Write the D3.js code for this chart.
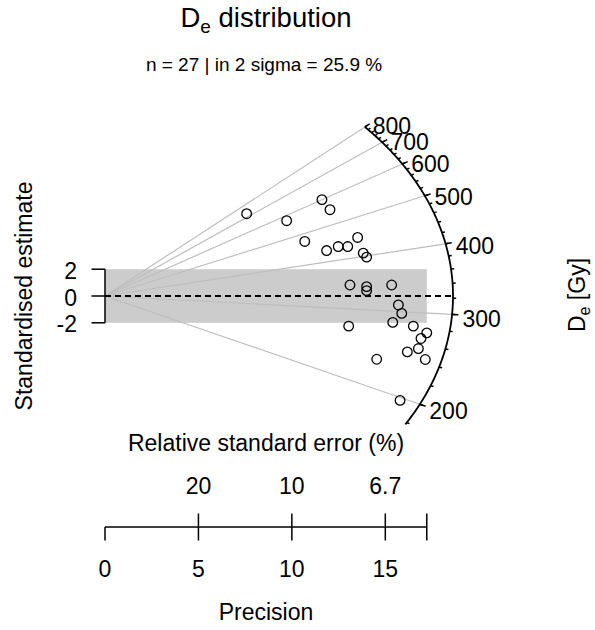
<!DOCTYPE html>
<html>
<head>
<meta charset="utf-8">
<script src="https://cdn.jsdelivr.net/npm/d3@7"></script>
<style>
  body { margin: 0; background: #fff; }
  text { font-family: "Liberation Sans", Arial, sans-serif; fill: #000; }
</style>
</head>
<body>
<div id="chart"></div>
<script>
// Radial plot of De values
// x = precision (1 / relative error), y = standardised estimate

// Data
const precision = [7.58, 9.72, 11.61, 12.04, 10.69, 11.86, 12.48, 12.99, 13.52,
    13.82, 14.00, 13.11, 14.00, 14.00, 15.34, 15.70, 15.88, 13.04, 15.40,
    16.50, 17.22, 16.91, 16.77, 16.18, 17.14, 14.54, 15.79];
const stdEstimate = [6.14, 5.62, 7.19, 6.44, 4.07, 3.39, 3.69, 3.69, 4.37,
    3.20, 2.90, 0.82, 0.70, 0.40, 0.82, -0.67, -1.30, -2.25, -1.97,
    -2.25, -2.75, -3.17, -3.92, -4.17, -4.74, -4.72, -7.79];
const centralDe = 323;
const deMajorTicks = [200, 300, 400, 500, 600, 700, 800];
const deMinorTicks = [180, 200, 220, 240, 260, 280, 300, 320, 340, 360, 380, 400,
    420, 440, 460, 480, 500, 520, 540, 560, 580, 600, 620, 640, 660, 680, 700,
    720, 740, 760, 780, 800];
const deArcRange = [178, 800];
const precisionTicks = [0, 5, 10, 15];
const rseTicks = [5, 10, 15];
const rseLabels = ["20", "10", "6.7"];
const zTicks = [-2, 0, 2];
const subtitle = "n = 27 | in 2 sigma = 25.9 %";

const width = 595, height = 630;

const svg = d3.select("#chart")
    .append("svg")
    .attr("width", width)
    .attr("height", height);

// scales
const x = d3.scaleLinear().domain([0, 15]).range([105, 385.3]);
const y = d3.scaleLinear().domain([-2, 2]).range([322.8, 269.2]);

const zc = Math.log(centralDe);
const pMax = d3.max(precision);
const r = x.invert(453);      // radius of the De scale arc (precision units)
const f = 0.982;              // aspect factor of the arc

// point on the arc for a De value, scaled by k
function arcPoint(de, k) {
    const d = Math.log(de) - zc;
    const ex = k * r / Math.sqrt(1 + f * f * d * d);
    return [x(ex), y(d * ex)];
}

// 2 sigma band
svg.append("rect")
    .attr("x", x(0))
    .attr("y", y(2))
    .attr("width", x(pMax) - x(0))
    .attr("height", y(-2) - y(2))
    .attr("fill", "#cccccc");

// lines from the origin to the major De ticks
svg.append("g")
    .selectAll("line")
    .data(deMajorTicks)
    .join("line")
    .attr("x1", x(0))
    .attr("y1", y(0))
    .attr("x2", d => arcPoint(d, 1)[0])
    .attr("y2", d => arcPoint(d, 1)[1])
    .attr("stroke", "#bebebe")
    .attr("stroke-width", 1.2);

// central value
svg.append("line")
    .attr("x1", x(0))
    .attr("y1", y(0))
    .attr("x2", arcPoint(centralDe, 1)[0])
    .attr("y2", y(0))
    .attr("stroke", "#000")
    .attr("stroke-width", 2)
    .attr("stroke-dasharray", "6,4");

// De arc
const arcValues = d3.range(0, 201).map(i =>
    Math.exp(Math.log(deArcRange[0]) + i / 200 * (Math.log(deArcRange[1]) - Math.log(deArcRange[0]))));
svg.append("path")
    .datum(arcValues)
    .attr("fill", "none")
    .attr("stroke", "#000")
    .attr("stroke-width", 1.8)
    .attr("d", d3.line().x(d => arcPoint(d, 1)[0]).y(d => arcPoint(d, 1)[1]));

// arc ticks
svg.append("g")
    .selectAll("line")
    .data(deMinorTicks)
    .join("line")
    .attr("x1", d => arcPoint(d, 1)[0])
    .attr("y1", d => arcPoint(d, 1)[1])
    .attr("x2", d => arcPoint(d, 1.009)[0])
    .attr("y2", d => arcPoint(d, 1.009)[1])
    .attr("stroke", "#000")
    .attr("stroke-width", 1.5);

svg.append("g")
    .selectAll("line")
    .data(deMajorTicks)
    .join("line")
    .attr("x1", d => arcPoint(d, 1)[0])
    .attr("y1", d => arcPoint(d, 1)[1])
    .attr("x2", d => arcPoint(d, 1.018)[0])
    .attr("y2", d => arcPoint(d, 1.018)[1])
    .attr("stroke", "#000")
    .attr("stroke-width", 1.5);

svg.append("g")
    .selectAll("text")
    .data(deMajorTicks)
    .join("text")
    .attr("x", d => arcPoint(d, 1.03)[0])
    .attr("y", d => arcPoint(d, 1.03)[1] + 4)
    .attr("dominant-baseline", "central")
    .style("font-size", "23px")
    .text(d => d);

// points
svg.append("g")
    .selectAll("circle")
    .data(precision)
    .join("circle")
    .attr("cx", d => x(d))
    .attr("cy", (d, i) => y(stdEstimate[i]))
    .attr("r", 4.8)
    .attr("fill", "none")
    .attr("stroke", "#000")
    .attr("stroke-width", 1.3);

// z axis (standardised estimate)
const zAxis = svg.append("g").attr("transform", `translate(${x(0)},0)`);
zAxis.append("line")
    .attr("y1", y(2)).attr("y2", y(-2))
    .attr("stroke", "#000").attr("stroke-width", 1.5);
zAxis.selectAll(".tick")
    .data(zTicks)
    .join("line")
    .attr("x1", 0).attr("x2", -13.5)
    .attr("y1", d => y(d)).attr("y2", d => y(d))
    .attr("stroke", "#000").attr("stroke-width", 1.5);
zAxis.selectAll("text")
    .data(zTicks)
    .join("text")
    .attr("x", -28)
    .attr("y", d => y(d) + 1.5)
    .attr("text-anchor", "end")
    .attr("dominant-baseline", "central")
    .style("font-size", "23px")
    .text(d => d);

// precision axis with relative standard error on top
const axisY = 527;
svg.append("line")
    .attr("x1", x(0)).attr("x2", x(pMax))
    .attr("y1", axisY).attr("y2", axisY)
    .attr("stroke", "#000").attr("stroke-width", 1.5);

svg.append("g")
    .selectAll("line")
    .data(precisionTicks.concat([pMax]))
    .join("line")
    .attr("x1", d => x(d)).attr("x2", d => x(d))
    .attr("y1", axisY).attr("y2", axisY + 13.5)
    .attr("stroke", "#000").attr("stroke-width", 1.5);

svg.append("g")
    .selectAll("line")
    .data(rseTicks.concat([pMax]))
    .join("line")
    .attr("x1", d => x(d)).attr("x2", d => x(d))
    .attr("y1", axisY).attr("y2", axisY - 13.5)
    .attr("stroke", "#000").attr("stroke-width", 1.5);

svg.append("g")
    .selectAll("text")
    .data(precisionTicks)
    .join("text")
    .attr("x", d => x(d))
    .attr("y", 577)
    .attr("text-anchor", "middle")
    .style("font-size", "23px")
    .text(d => d);

svg.append("g")
    .selectAll("text")
    .data(rseTicks)
    .join("text")
    .attr("x", d => x(d))
    .attr("y", 494)
    .attr("text-anchor", "middle")
    .style("font-size", "23px")
    .text((d, i) => rseLabels[i]);

// axis titles
svg.append("text")
    .attr("x", 266).attr("y", 451)
    .attr("text-anchor", "middle")
    .style("font-size", "23px")
    .text("Relative standard error (%)");

svg.append("text")
    .attr("x", 266).attr("y", 620)
    .attr("text-anchor", "middle")
    .style("font-size", "23px")
    .text("Precision");

svg.append("text")
    .attr("transform", "translate(31.5,296) rotate(-90)")
    .attr("text-anchor", "middle")
    .style("font-size", "23px")
    .text("Standardised estimate");

const deLabel = svg.append("text")
    .attr("transform", "translate(585,295) rotate(-90)")
    .attr("text-anchor", "middle")
    .style("font-size", "23px");
deLabel.append("tspan").text("D");
deLabel.append("tspan").attr("dy", 5).style("font-size", "16px").text("e");
deLabel.append("tspan").attr("dy", -5).text(" [Gy]");

// title
const title = svg.append("text")
    .attr("x", 266).attr("y", 27)
    .attr("text-anchor", "middle")
    .style("font-size", "27.5px");
title.append("tspan").text("D");
title.append("tspan").attr("dy", 6).style("font-size", "19px").text("e");
title.append("tspan").attr("dy", -6).text(" distribution");

svg.append("text")
    .attr("x", 264).attr("y", 71)
    .attr("text-anchor", "middle")
    .style("font-size", "19px")
    .text(subtitle);
</script>
</body>
</html>
